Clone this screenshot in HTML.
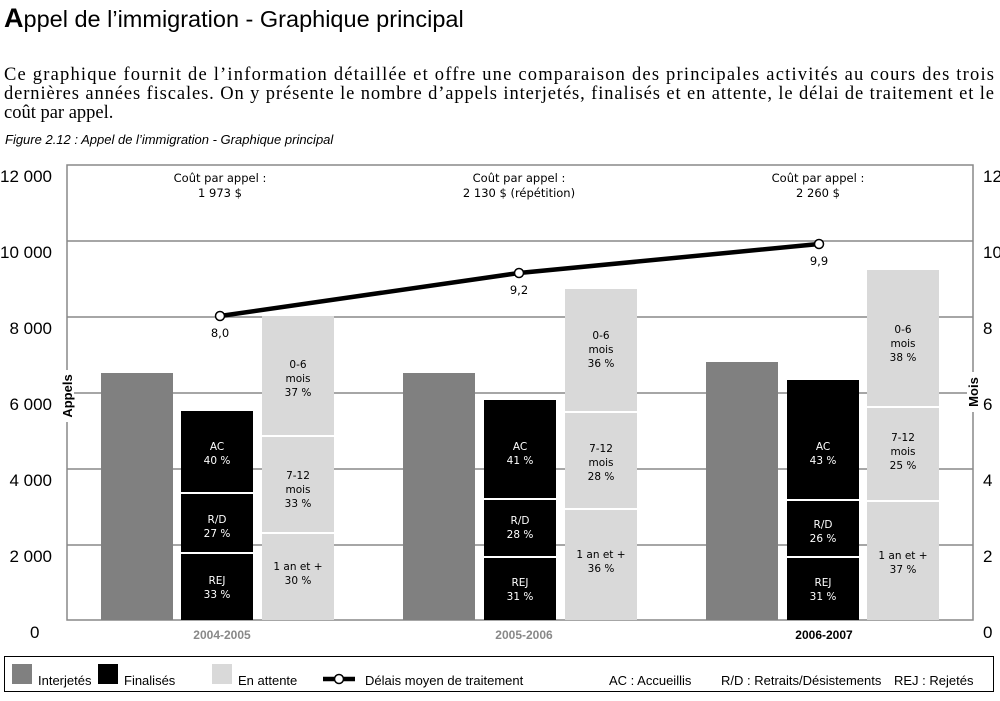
<!DOCTYPE html>
<html><head><meta charset="utf-8"><style>
body{margin:0;background:#fff;width:1000px;height:696px;overflow:hidden}
svg text{font-family:"DejaVu Sans","Liberation Sans",sans-serif}
.a{font-family:"Liberation Sans",sans-serif!important}
.s{font-family:"Liberation Serif",serif!important}
</style></head><body>
<svg width="1000" height="696" xmlns="http://www.w3.org/2000/svg">
<text x="4" y="27" class="a" font-size="23.5"><tspan font-weight="bold" font-size="27">A</tspan>ppel de l’immigration - Graphique principal</text>
<text x="4" y="80" class="s" font-size="18.5" textLength="990" lengthAdjust="spacing">Ce graphique fournit de l’information détaillée et offre une comparaison des principales activités au cours des trois</text>
<text x="4" y="99" class="s" font-size="18.5" textLength="990" lengthAdjust="spacing">dernières années fiscales. On y présente le nombre d’appels interjetés, finalisés et en attente, le délai de traitement et le</text>
<text x="4" y="118" class="s" font-size="18.5">coût par appel.</text>
<text x="5" y="144" class="a" font-size="13" font-style="italic">Figure 2.12 : Appel de l’immigration - Graphique principal</text>
<g stroke="#888" stroke-width="1.5" fill="none">
<rect x="67" y="165" width="906" height="455"/>
<line x1="67" y1="241" x2="973" y2="241"/><line x1="67" y1="317" x2="973" y2="317"/>
<line x1="67" y1="393" x2="973" y2="393"/><line x1="67" y1="469" x2="973" y2="469"/>
<line x1="67" y1="545" x2="973" y2="545"/>
</g>
<g class="a" font-size="17" fill="#000">
<text x="52" y="182" text-anchor="end" class="a">12 000</text>
<text x="52" y="258" text-anchor="end" class="a">10 000</text>
<text x="52" y="334" text-anchor="end" class="a">8 000</text>
<text x="52" y="410" text-anchor="end" class="a">6 000</text>
<text x="52" y="486" text-anchor="end" class="a">4 000</text>
<text x="52" y="562" text-anchor="end" class="a">2 000</text>
<text x="30" y="638" class="a">0</text>
<text x="983" y="182" class="a">12</text><text x="983" y="258" class="a">10</text>
<text x="983" y="334" class="a">8</text><text x="983" y="410" class="a">6</text>
<text x="983" y="486" class="a">4</text><text x="983" y="562" class="a">2</text>
<text x="983" y="638" class="a">0</text>
</g>
<rect x="61" y="370" width="13" height="52" fill="#fff"/>
<text transform="translate(72,396) rotate(-90)" text-anchor="middle" class="a" font-size="13" font-weight="bold">Appels</text>
<rect x="967" y="372" width="13" height="40" fill="#fff"/>
<text transform="translate(978,392) rotate(-90)" text-anchor="middle" class="a" font-size="13" font-weight="bold">Mois</text>
<g fill="#808080">
<rect x="101" y="373" width="72" height="247"/>
<rect x="403" y="373" width="72" height="247"/>
<rect x="706" y="362" width="72" height="258"/>
</g>
<g fill="#000">
<rect x="181" y="411" width="72" height="209"/>
<rect x="484" y="400" width="72" height="220"/>
<rect x="787" y="380" width="72" height="240"/>
</g>
<g fill="#d9d9d9">
<rect x="262" y="316" width="72" height="304"/>
<rect x="565" y="289" width="72" height="331"/>
<rect x="867" y="270" width="72" height="350"/>
</g>
<g stroke="#fff" stroke-width="2">
<line x1="181" y1="493" x2="253" y2="493"/><line x1="181" y1="553" x2="253" y2="553"/>
<line x1="484" y1="499" x2="556" y2="499"/><line x1="484" y1="557" x2="556" y2="557"/>
<line x1="787" y1="500" x2="859" y2="500"/><line x1="787" y1="557" x2="859" y2="557"/>
<line x1="262" y1="436" x2="334" y2="436"/><line x1="262" y1="533" x2="334" y2="533"/>
<line x1="565" y1="412" x2="637" y2="412"/><line x1="565" y1="509" x2="637" y2="509"/>
<line x1="867" y1="407" x2="939" y2="407"/><line x1="867" y1="501" x2="939" y2="501"/>
</g>
<g font-size="10.5" text-anchor="middle" fill="#fff">
<text x="217" y="450">AC</text><text x="217" y="464">40 %</text>
<text x="217" y="523">R/D</text><text x="217" y="537">27 %</text>
<text x="217" y="584">REJ</text><text x="217" y="598">33 %</text>
<text x="520" y="450">AC</text><text x="520" y="464">41 %</text>
<text x="520" y="524">R/D</text><text x="520" y="538">28 %</text>
<text x="520" y="586">REJ</text><text x="520" y="600">31 %</text>
<text x="823" y="450">AC</text><text x="823" y="464">43 %</text>
<text x="823" y="528">R/D</text><text x="823" y="542">26 %</text>
<text x="823" y="586">REJ</text><text x="823" y="600">31 %</text>
</g>
<g font-size="10.5" text-anchor="middle" fill="#000">
<text x="298" y="368">0-6</text><text x="298" y="382">mois</text><text x="298" y="396">37 %</text>
<text x="298" y="479">7-12</text><text x="298" y="493">mois</text><text x="298" y="507">33 %</text>
<text x="298" y="570">1 an et +</text><text x="298" y="584">30 %</text>
<text x="601" y="339">0-6</text><text x="601" y="353">mois</text><text x="601" y="367">36 %</text>
<text x="601" y="452">7-12</text><text x="601" y="466">mois</text><text x="601" y="480">28 %</text>
<text x="601" y="558">1 an et +</text><text x="601" y="572">36 %</text>
<text x="903" y="333">0-6</text><text x="903" y="347">mois</text><text x="903" y="361">38 %</text>
<text x="903" y="441">7-12</text><text x="903" y="455">mois</text><text x="903" y="469">25 %</text>
<text x="903" y="559">1 an et +</text><text x="903" y="573">37 %</text>
</g>
<g font-size="11.5" text-anchor="middle" fill="#000">
<text x="220" y="182">Coût par appel :</text><text x="220" y="197">1 973 $</text>
<text x="519" y="182">Coût par appel :</text><text x="519" y="197">2 130 $ (répétition)</text>
<text x="818" y="182">Coût par appel :</text><text x="818" y="197">2 260 $</text>
<text x="220" y="337">8,0</text><text x="519" y="294">9,2</text><text x="819" y="265">9,9</text>
</g>
<polyline points="220,316 519,273 819,244" fill="none" stroke="#000" stroke-width="4.5"/>
<g fill="#fff" stroke="#000" stroke-width="1.5">
<circle cx="220" cy="316" r="4.5"/><circle cx="519" cy="273" r="4.5"/><circle cx="819" cy="244" r="4.5"/>
</g>
<g class="a" font-size="12" font-weight="bold" text-anchor="middle">
<text x="222" y="639" fill="#888" class="a">2004-2005</text>
<text x="524" y="639" fill="#888" class="a">2005-2006</text>
<text x="824" y="639" fill="#000" class="a">2006-2007</text>
</g>
<rect x="4.5" y="656.5" width="989" height="35" fill="none" stroke="#000" stroke-width="1"/>
<rect x="12" y="664" width="20" height="20" fill="#808080"/>
<rect x="98" y="664" width="20" height="20" fill="#000"/>
<rect x="212" y="664" width="20" height="20" fill="#d9d9d9"/>
<line x1="323" y1="679" x2="355" y2="679" stroke="#000" stroke-width="4.5"/>
<circle cx="339" cy="679" r="4.5" fill="#fff" stroke="#000" stroke-width="1.5"/>
<g class="a" font-size="13">
<text x="38" y="685" class="a">Interjetés</text>
<text x="124" y="685" class="a">Finalisés</text>
<text x="238" y="685" class="a">En attente</text>
<text x="365" y="685" class="a">Délais moyen de traitement</text>
<text x="609" y="685" class="a">AC : Accueillis</text>
<text x="721" y="685" class="a">R/D : Retraits/Désistements</text>
<text x="894" y="685" class="a">REJ : Rejetés</text>
</g>
</svg>
</body></html>
